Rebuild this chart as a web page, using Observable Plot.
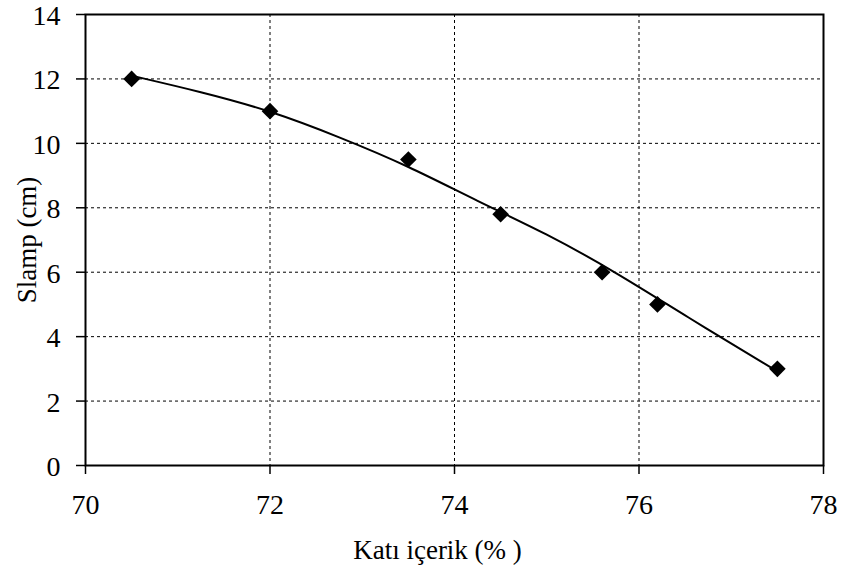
<!DOCTYPE html>
<html>
<head>
<meta charset="utf-8">
<script src="https://cdn.jsdelivr.net/npm/d3@7"></script>
<script src="https://cdn.jsdelivr.net/npm/@observablehq/plot@0.6"></script>
<style>
  html, body { margin: 0; padding: 0; background: #fff; }
  #chart { width: 842px; height: 581px; }
  #chart svg text { font-family: 'Liberation Serif', 'Times New Roman', serif !important; fill: #000; }
  #chart svg g[aria-label="x-axis tick label"] text, #chart svg g[aria-label="y-axis tick label"] text { font-size: 28px !important; }
  #chart svg g[aria-label="text"] text { font-size: 27px !important; }
</style>
</head>
<body>
<div id="chart"></div>
<script>
// Measured points
const solids = [70.5, 72, 73.5, 74.5, 75.6, 76.2, 77.5];
const slump = [12.0, 11.0, 9.5, 7.8, 6.0, 5.0, 3.0];

// Trend line
const trendX = [70.5, 71.25, 72, 72.75, 73.5, 74.25, 75, 75.75, 76.5, 77.5];
const trendY = [12.1, 11.6, 11.02, 10.2, 9.3, 8.2, 7.2, 6.0, 4.65, 2.92];

const xTicks = [70, 72, 74, 76, 78];
const yTicks = [0, 2, 4, 6, 8, 10, 12, 14];
const xGrid = [72, 74, 76];
const yGrid = [2, 4, 6, 8, 10, 12];

const xLabel = "Katı içerik (% )";
const yLabel = "Slamp (cm)";

const points = solids.map((x, i) => ({x, y: slump[i]}));
const trend = trendX.map((x, i) => ({x, y: trendY[i]}));

const font = "'Liberation Serif', 'Times New Roman', serif";

const chart = Plot.plot({
  width: 842,
  height: 581,
  marginLeft: 85,
  marginRight: 19,
  marginTop: 14,
  marginBottom: 116,
  style: {fontFamily: font, fontSize: "27px", color: "#000", background: "#fff"},
  x: {domain: [70, 78]},
  y: {domain: [0, 14]},
  marks: [
    Plot.ruleX(xGrid, {stroke: "#000", strokeWidth: 1, strokeDasharray: "3,3"}),
    Plot.ruleY(yGrid, {stroke: "#000", strokeWidth: 1, strokeDasharray: "3,3"}),
    Plot.axisX(xTicks, {tickSize: 9, tickPadding: 20, fontSize: 28, label: null, stroke: "#000", strokeWidth: 1.5}),
    Plot.axisY(yTicks, {tickSize: 9, text: null, label: null, stroke: "#000", strokeWidth: 1.5}),
    Plot.axisY(yTicks, {tickSize: 0, tickPadding: 25, fontSize: 28, dy: 1.5, label: null}),
    Plot.frame({stroke: "#000", strokeWidth: 2}),
    Plot.line(trend, {x: "x", y: "y", stroke: "#000", strokeWidth: 2, curve: "basis"}),
    Plot.dot(points, {x: "x", y: "y", symbol: "diamond2", r: 7.5, fill: "#000", stroke: "none"}),
    Plot.text([xLabel], {frameAnchor: "bottom", dx: -17, dy: 93, textAnchor: "middle", fontSize: 27, fill: "#000"}),
    Plot.text([yLabel], {frameAnchor: "left", dx: -58, rotate: -90, textAnchor: "middle", fontSize: 27, fill: "#000"})
  ]
});
document.getElementById("chart").appendChild(chart);
</script>
</body>
</html>
